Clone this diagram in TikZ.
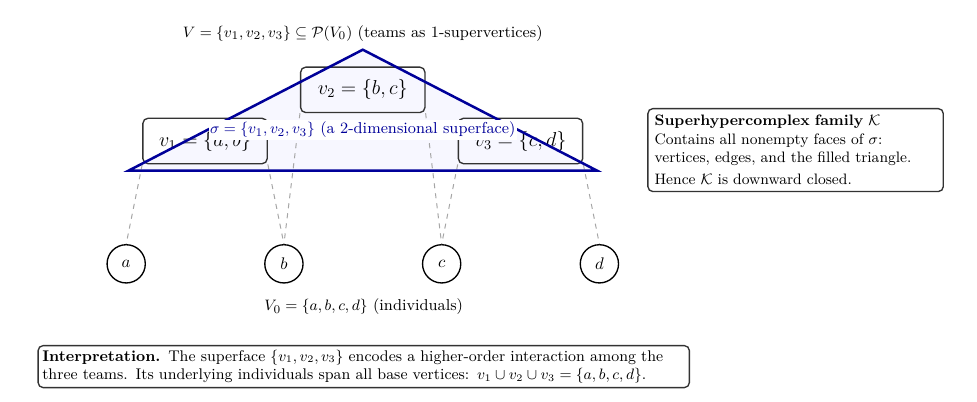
\documentclass[tikz,border=0pt]{standalone}
\usepackage{tikz}
\usetikzlibrary{positioning}
\usepackage{amsmath}
\usepackage{xcolor}

\begin{document}
\begin{tikzpicture}[
    thick,
    base node/.style={circle, draw=black, minimum size=0.8cm, inner sep=0pt},
    team node/.style={rectangle, rounded corners=3pt, draw=black!80, minimum width=2.6cm, minimum height=0.95cm, font=\large},
    info box/.style={rectangle, rounded corners=3pt, draw=black!80, fill=white, align=left, font=\small},
    label text/.style={font=\fontsize{9.4pt}{11pt}\selectfont},
    link/.style={gray!70, dashed, semithick},
    face/.style={draw=blue!60!black, line width=1.5pt, line join=miter}
]
    \useasboundingbox (-2.64,-2.89) rectangle (17.8,5.52);

    % Nodes
    \node[base node] (a) at (0, 0) {$a$};
    \node[base node] (b) at (3.3, 0) {$b$};
    \node[base node] (c) at (6.6, 0) {$c$};
    \node[base node] (d) at (9.9, 0) {$d$};

    % Superface (filled part, behind everything)
    \coordinate (L) at (0.05, 1.95);
    \coordinate (R) at (9.85, 1.95);
    \coordinate (T) at (4.95, 4.48);
    \fill[blue!3] (L) -- (T) -- (R) -- cycle;

    % Edges (membership)
    \node[team node] (v1) at (1.65, 2.57) {$v_1 = \{a, b\}$};
    \node[team node] (v2) at (4.95, 3.64) {$v_2 = \{b, c\}$};
    \node[team node] (v3) at (8.25, 2.57) {$v_3 = \{c, d\}$};

    \draw[link] (v1.south west) -- (a.north);
    \draw[link] (v1.south east) -- (b.north);
    \draw[link] (v2.south west) -- (b.north);
    \draw[link] (v2.south east) -- (c.north);
    \draw[link] (v3.south west) -- (c.north);
    \draw[link] (v3.south east) -- (d.north);

    \draw[face] (L) -- (T) -- (R) -- cycle;

    % Labels
    \node[label text] (top) at (4.95, 4.82) {$V = \{v_1, v_2, v_3\} \subseteq \mathcal{P}(V_0)$ (teams as 1-supervertices)};
    \node[label text, text=blue!60!black, fill=white, inner sep=1pt] (sigma) at (4.95, 2.8) {$\sigma = \{v_1, v_2, v_3\}$ (a 2-dimensional superface)};
    \node[label text] (base) at (4.97, -0.9) {$V_0 = \{a, b, c, d\}$ (individuals)};

    \node[info box, inner sep=4pt, text width=5.9cm, anchor=west] (family) at (10.9, 2.38) {\textbf{Superhypercomplex family $\mathcal{K}$}\\
        Contains all nonempty faces of $\sigma$:\\
        vertices, edges, and the filled triangle.\\[2pt]
        Hence $\mathcal{K}$ is downward closed.};

    \node[info box, inner sep=2.5pt, text width=13.45cm, font=\fontsize{9.2pt}{11pt}\selectfont] (note) at (4.97, -2.15) {\textbf{Interpretation.} The superface $\{v_1, v_2, v_3\}$ encodes a higher-order interaction among the three teams. Its underlying individuals span all base vertices: $v_1 \cup v_2 \cup v_3 = \{a, b, c, d\}$.};
\end{tikzpicture}
\end{document}
